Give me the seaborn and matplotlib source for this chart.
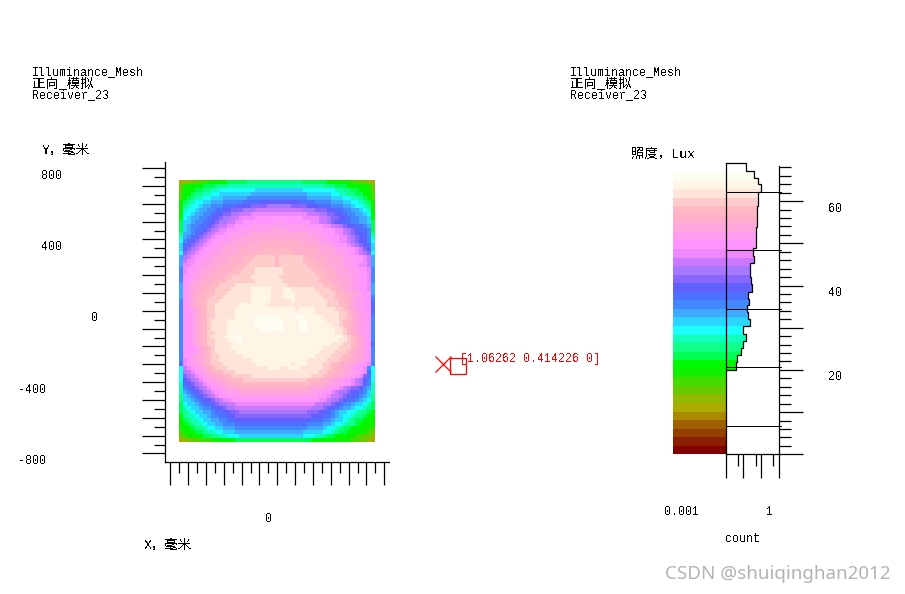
import matplotlib
matplotlib.use("Agg")
import matplotlib.pyplot as plt
import matplotlib.ticker as ticker
import matplotlib.transforms as mtrans
from matplotlib.colors import ListedColormap
import numpy as np
import seaborn as sns

W, H = 905, 594

# colour bands of the scale, bottom to top
band_colors = ["#800000", "#8B1E00", "#964000", "#A06000", "#AA8800", "#AAAA00", "#90BB00", "#66CC00",
               "#44DD00", "#11EE00", "#00F800", "#00FF55", "#0FFF88", "#11FFBB", "#1BFFFF", "#2BD5FF",
               "#3FAAFF", "#4488FF", "#4D70FF", "#6060FF", "#8866FF", "#AA77FF", "#CC77FF", "#EE88FF",
               "#FF96FF", "#FF9EEE", "#FFA6DA", "#FFAFCC", "#FFB8C4", "#FFCCCC", "#FFE4DA", "#FFF5E6",
               "#FFFDF2"]
lux_max = 67.0

# illuminance per mesh cell, one band code (base 36) per cell, top row first
mesh_rows = [
    "566778899aaabbbbbcccccccc" + "ccccccbbbbbbaaa999887765",
    "79aaaabbbcccddddddddddddd" + "dddddddddddcccbbbaaaaa97",
    "7aaabbccddeeeeeeeeeffffff" + "ffffffeeeeeeeeddccbbaaa7",
    "8aabccddeeffffffffggggggg" + "gggggggffffffeeddccbbaa8",
    "8abcddeefffgggggghhhhhhhh" + "hhhhhhhggggggfffeeddcba8",
    "9bcdeeffggghhhhhiiiijjjjj" + "jjjjjiiiihhhhgggffeedcb9",
    "9cdeefgghhhiiijjjjkkkklll" + "lllkkkkjjjiiihhhggfeedc9",
    "9deefgghhiijjkkklllmmmmmm" + "mmmmmmlllkkkjjiihhggfed9",
    "aeefgghhijjkkllmmmnnnnnnn" + "nnnnnnnmmmllkkjjihhggfea",
    "aefgghhijjkllmmnnnnoooooo" + "oooooonnnnmmlkkjjihhggfa",
    "bffghhiijkllmmnnoooooooop" + "pooooooonnmmlkjjiihhggfb",
    "bfghhiijklmmnnooooppppppp" + "pppppppoooonnmmlkjjiihgb",
    "bfghiijklmnnoooppppppppqq" + "qqpppppppppooonnmlkjiihb",
    "cgghijklmnnooppppp" + "qqqqqqq" + "qqqqqqqppppooonnmlkjjihc",
    "dghijklmnoooppppqqqqqqqqq" + "qqqqqqqqqpppooonnmlkjjhd",
    "ehijklmnooppppqqqqqqrrrrr" + "rrrrrqqqqqpppoonnmlkjjhe",
    "fijklmnoopppqqqqqrrrrrrrr" + "rrrrrrrqqqqqppooonmlkjif",
    "fjklmnoopppqqqqrrrrrrssss" + "sssrrrrrrrqqqqpppoonmkjf",
    "eklmnoopppqqqqrrrrrsssss" + "s" + "ssssrrrrrrqqqqpppoonmlke",
    "glmnoopppqqqrrrrsssttttts" + "ttttttssrrrrqqqqpppoonmg",
    "gmnnopppqqqqrrrrsstttttts" + "ttttttsssrrrqqqqpppoonmg",
    "gnnopppqqqrrrrsssttttttts" + "tttttttsssrrrqqqppponnmg",
    "hnooppqqqrrrrssstttuuuuuu" + "utttttttsssrrrqqqpppoonh",
    "hnoppqqqrrrrsssttttuuuuuu" + "uttttttttsssrrqqqpppoonh",
    "hooppqqrrrrsstttttuuuuuuu" + "ttttttttttssrrrqqqppoonh",
    "hoopqqrrrssstttttttuuuuuu" + "utttttttttsssrrqqqppoonh",
    "gopqqrrrssttttuuuuuuuuuuu" + "uutttttttttsssrrqqppoong",
    "gopqqrrssttttuuuuuvvvvvuu" + "uvvuuuuuuttttsrrqqppoong",
    "gopqrrssstttuuuuuuvvvvvuu" + "uvvvuuuuuuttttssrrqqpoog",
    "gopqrrsstttuuuuuuuvvvvvuu" + "uvvvuuuuuuutttssrrqppooh",
    "hopqrsstttuuuuuuuuvvvvvuu" + "uuuvuuuuuuuutttssrqppooi",
    "hopqrssttuuuuuuvvvvvvvuuu" + "uuuuuuuuuuuutttssrqppooi",
    "hoopqrsttuuuuuvvvvvvvvvvv" + "vvvvuvvvvuuuuuttsrqppooi",
    "hoopqrsttuuuuuvvvvvvvvvvv" + "vvvvvvvvvuuuuuuttsrqppoi",
    "hoopqrsttuuuuuvvvvvwwwwww" + "vvvvwwvvvvvuuuuttsrqppoh",
    "hoopqrstuuuuvvvvvvvwwwwww" + "wvvvvwwvvvvvuuutssrqppoh",
    "hoopqrstuuuuvvvvvvvwwwwww" + "wvvvvwwvvvvvvuutssrqppoh",
    "hoopqrstuuuuvvvvvvvvwwwww" + "wvvvvwwvvvvvvvuutsrqppoh",
    "hoopqrsttuuuvvvvvvvvvvvvv" + "vvvvvvvvvvvvvvuutsrqppoh",
    "hoopqrstuuuvvvwwvvvvvvvvv" + "vvvvvvvvvvvvvvvvutsrqpoh",
    "hoopqrsttuuuvvwwvvvvvvvvv" + "vvvvvvvvvvvvvvvuutsrqpoh",
    "hoopqrsttuuuuvvvvvvvvvvvv" + "vvvvvvvvvvvvvuuuttsrqpoi",
    "hooopqrstuuuuvvvvvvvvvvvv" + "vvvvvvvvvvvuuuutttsrqpoh",
    "hooopqrstuuuuuvvvvvvvvvvv" + "vvvvvvvvvvuuuutttsrqqpoh",
    "hoopqqrsttuuuuuuvvvvvvvvv" + "vvvvvvvvvuuuutttssrqqpoh",
    "hnopqqrsttuuuuuuuuvvvvvvv" + "vvvvvvvuuuuutttssrrqqpoh",
    "inoppqrstttuuuuuuuuvvvvvv" + "vvvuvvvuuuuttssrrqqpoonh",
    "emnoppqrstttuuuuuuuuuuvvv" + "uuvvvuuuuuuttsrrqqpoonhe",
    "elmnopqqrsstttuuuuuuuuuuu" + "uuuuuuuuuuttssrrqqpponie",
    "eklmnopqqrrsstttttuuuuuuu" + "uuuuuuuutttssrrqqpponkie",
    "ejklmnoppqqrrsssttttttttt" + "tttttttsssrrqqppoonmljhe",
    "dijklmnoppqqrrrssssssssss" + "ssssssssrrrrqqppoonmljhd",
    "dhijklmnooppqqqrrrrrrrrrr" + "rrrrrrrqqqqppoonmlkkjhgd",
    "dghijklmnoopppp" + "qqqqqqqqqq" + "qqqqqqqqpppoonmllkjjihfd",
    "cfghijklmnoooppppppppppp" + "p" + "ppppppppppoonmmlkjjihgfc",
    "cffghijjklmnnoooooooooooo" + "oooooooooonnmllkjiihgfec",
    "beffghiijkllmmnnnnnnnnnnn" + "nnnnnnnnnmmllkjihhgffedb",
    "bdeffghhijjkllmmmmmmmmmmm" + "mmmmmmmmlllkjjihggfeedcb",
    "bcdeffgghiijjkkllllllllll" + "lllllllkkkjjihgffeedccba",
    "acddeffghhiijjkkkkkkkkkkk" + "kkkkkkkkjjjiihgfeedccbaa",
    "abcddeffgghhiijjjjjjjjjjj" + "jjjjjjjjiiihhgffedcbbaa9",
    "9abcddeffgghhhiiiiiiiiiii" + "iiiiiiihhhhggfeedccbaa99",
    "9aabccdeeffggghhhhhhhhhhh" + "hhhhhhhggggfeedcbbaaa998",
    "89aabbcddeefffggggggggggg" + "ggggggfffffeedcbbaaa9987",
    "7899aabbccddeeeffffffffff" + "ffffffeeeddcbbaaa9988776",
    "56677888" + "99aaaabbbbbbbbbbb" + "bbbbbbbbaaaaaa9999887765",
]

# histogram of the cells, bin edges in lux and log axis counts
hist_edges = [20.1, 21.8, 23.5, 25.1, 26.8, 28.4, 30.3, 32.1, 33.7, 35.4, 36.8, 38.5, 40.4, 42.1, 43.8,
              45.4, 47.0, 48.8, 50.5, 52.2, 53.8, 55.5, 57.2, 58.9, 60.5, 62.1, 64.05, 65.5, 67.2, 68.96]
hist_counts = [0.0037, 0.0042, 0.0071, 0.0092, 0.0143, 0.0092, 0.024, 0.020, 0.0155, 0.0228, 0.020,
               0.0312, 0.0274, 0.024, 0.024, 0.0438, 0.0356, 0.0526, 0.0526, 0.0526, 0.06, 0.06, 0.06,
               0.068, 0.068, 0.0958, 0.0648, 0.0405, 0.0143]
contour_levels = [6.8, 20.6, 34.4, 48.4, 62.1]

title_lines = ["Illuminance_Mesh", "正向_模拟", "Receiver_23"]
y_labels = {800: "800", 400: "400", 0: "0", -400: "-400", -800: "-800"}
marker_xy = [929, -298]
box_xy = [1016, -310]
marker_text = "[1.06262 0.414226 0]"
watermark = "CSDN @shuiqinghan2012"

sns.set_theme(style="white")
plt.rcParams["font.family"] = ["Liberation Mono", "Noto Sans CJK SC"]
plt.rcParams["text.antialiased"] = False
plt.rcParams["lines.antialiased"] = False
plt.rcParams["font.size"] = 8.4
plt.rcParams["xtick.labelsize"] = 8.4
plt.rcParams["ytick.labelsize"] = 8.4
plt.rcParams["axes.linewidth"] = 0.9
plt.rcParams["axes.edgecolor"] = "black"
plt.rcParams["xtick.color"] = "black"
plt.rcParams["ytick.color"] = "black"
plt.rcParams["text.color"] = "black"
plt.rcParams["axes.labelcolor"] = "black"

PX = 0.72
LW = 0.9
CJK_SIZE = 9.6


def pxRect(x0, y0, x1, y1):
    return [x0 / W, 1 - y1 / H, (x1 - x0) / W, (y1 - y0) / H]


def pxText(x, y, s, **kw):
    kw.setdefault("va", "center")
    return fig.text(x / W, 1 - y / H, s, **kw)


def shiftLabel(label, dx, dy):
    label.set_transform(label.get_transform() + mtrans.ScaledTranslation(dx * PX / 72, -dy * PX / 72, fig.dpi_scale_trans))


fig = plt.figure(figsize=(W / 100, H / 100), dpi=100)
cmap = ListedColormap(band_colors)
step = lux_max / len(band_colors)

# mesh map
mesh = np.array([[(int(c, 36) + 0.5) * step for c in row] for row in mesh_rows])
axMesh = fig.add_axes(pxRect(179, 180, 375, 441.5))
sns.heatmap(mesh, ax=axMesh, cmap=cmap, vmin=0, vmax=lux_max, cbar=False, xticklabels=False, yticklabels=False)
axMesh.set_axis_off()

# frame round the map, in millimetres
axFrame = fig.add_axes(pxRect(164.5, 162, 389, 461.5))
axFrame.patch.set_visible(False)
axFrame.set_xlim(-632.6, 626.5)
axFrame.set_ylim(-845.2, 834.5)
axFrame.spines[["top", "right"]].set_visible(False)
axFrame.set_xticks(np.arange(-600, 601, 100))
axFrame.set_xticklabels(["0" if v == 0 else "" for v in np.arange(-600, 601, 100)])
axFrame.set_yticks(np.arange(-800, 801, 100))
axFrame.set_yticklabels([y_labels.get(v, "") for v in np.arange(-800, 801, 100)])
axFrame.xaxis.set_minor_locator(ticker.FixedLocator(np.arange(-550, 601, 100)))
axFrame.yaxis.set_minor_locator(ticker.FixedLocator(np.arange(-750, 751, 100)))
axFrame.tick_params(which="major", bottom=True, left=True, length=23 * PX, width=LW, direction="out")
axFrame.tick_params(which="minor", bottom=True, left=True, length=11 * PX, width=LW, direction="out")
axFrame.tick_params(axis="x", which="major", pad=29 * PX)
axFrame.tick_params(axis="y", which="major", pad=79 * PX)
for tick in axFrame.yaxis.get_major_ticks():
    v = tick.get_loc()
    dx = 36 if v == 0 else (-16 if v < 0 else 0)
    shiftLabel(tick.label1, dx, 6)
for tick in axFrame.xaxis.get_major_ticks():
    shiftLabel(tick.label1, -9, 0)

axFrame.plot(marker_xy[0], marker_xy[1], marker="x", ms=16 * PX, mew=LW, color="red", clip_on=False)
axFrame.plot(box_xy[0], box_xy[1], marker="s", ms=16 * PX, mew=LW, mfc="none", color="red", clip_on=False)
pxText(460, 359, marker_text, color="red")

# scale bands
bands = (np.arange(len(band_colors))[::-1].reshape(-1, 1) + 0.5) * step
axBar = fig.add_axes(pxRect(673, 172, 725.5, 454.3))
sns.heatmap(bands, ax=axBar, cmap=cmap, vmin=0, vmax=lux_max, cbar=False, xticklabels=False, yticklabels=False)
axBar.set_axis_off()

# same bands behind the histogram, cut to its outline further down
axFill = fig.add_axes(pxRect(725.5, 172, 778.5, 454.3))
sns.heatmap(bands, ax=axFill, cmap=cmap, vmin=0, vmax=lux_max, cbar=False, xticklabels=False, yticklabels=False)
axFill.set_axis_off()

# histogram, log count against lux
axHist = fig.add_axes(pxRect(725.5, 159, 778.5, 454.3))
axHist.patch.set_visible(False)
axHist.set_xscale("log")
axHist.set_xlim(0.001, 1)
axHist.set_ylim(0, 70)
outline = axHist.stairs(hist_counts, hist_edges, orientation="horizontal", baseline=0.001, color="black", lw=LW)
axFill.collections[0].set_clip_path(outline)
axHist.hlines(contour_levels, 0.001, 1.45, color="black", lw=0.6, antialiased=False, clip_on=False)

axHist.spines["top"].set_visible(False)
axHist.spines["left"].set_bounds(0, 68.96)
axHist.spines["right"].set_bounds(0, 68.3)
axHist.yaxis.tick_right()
axHist.set_xticks([0.001, 0.01, 0.1, 1])
axHist.set_xticklabels(["0.001", "", "", "1"])
axHist.xaxis.set_minor_locator(ticker.FixedLocator([0.005, 0.05, 0.5]))
axHist.xaxis.set_minor_formatter(ticker.NullFormatter())
axHist.set_yticks(np.arange(0, 61, 10))
axHist.set_yticklabels(["60" if v == 60 else "40" if v == 40 else "20" if v == 20 else "" for v in np.arange(0, 61, 10)])
axHist.yaxis.set_minor_locator(ticker.FixedLocator([v for v in np.arange(2, 69, 2) if v % 10 != 0]))
axHist.tick_params(which="major", bottom=True, right=True, length=24 * PX, width=LW, direction="out")
axHist.tick_params(which="minor", bottom=True, right=True, length=12 * PX, width=LW, direction="out")
axHist.tick_params(axis="x", which="major", pad=28 * PX)
axHist.tick_params(axis="y", which="major", pad=26 * PX)
for tick in axHist.yaxis.get_major_ticks():
    shiftLabel(tick.label2, 0, 6)
xticks = axHist.xaxis.get_major_ticks()
shiftLabel(xticks[0].label1, -44, 0)
shiftLabel(xticks[3].label1, -9, 0)

# captions
for x in [32, 570]:
    for line, y in zip(title_lines, [72, 84, 95]):
        pxText(x, y, line, fontsize=CJK_SIZE if line == title_lines[1] else 8.4)
pxText(42, 150, "Y，毫米", fontsize=CJK_SIZE)
pxText(144, 545, "X，毫米", fontsize=CJK_SIZE)
pxText(631, 154, "照度，Lux", fontsize=CJK_SIZE)
pxText(725, 539, "count")
pxText(665, 574, watermark, color="#b3b3b3", family="Noto Sans", fontsize=13.5, antialiased=True)

fig.savefig("out.png", dpi=100)
plt.close()
